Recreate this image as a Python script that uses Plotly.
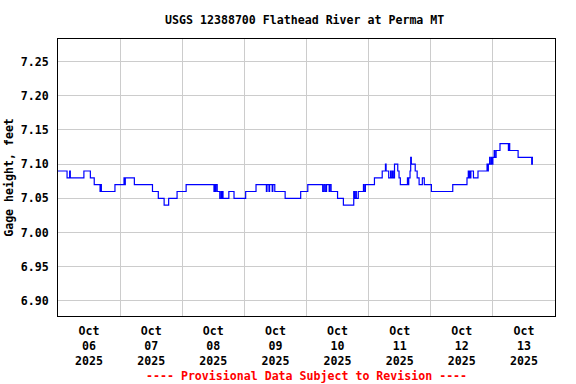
import plotly.graph_objects as go

title_text = "USGS 12388700 Flathead River at Perma MT"
y_title = "Gage height, feet"
footer_text = "---- Provisional Data Subject to Revision ----"

times = [
    "2025-10-06 00:00", "2025-10-06 03:30", "2025-10-06 04:30", "2025-10-06 04:45",
    "2025-10-06 10:00", "2025-10-06 12:30", "2025-10-06 14:00", "2025-10-06 16:15",
    "2025-10-06 16:30", "2025-10-06 16:45", "2025-10-06 22:00", "2025-10-07 01:30",
    "2025-10-07 01:45", "2025-10-07 02:00", "2025-10-07 05:30", "2025-10-07 12:30",
    "2025-10-07 14:45", "2025-10-07 17:00", "2025-10-07 18:45", "2025-10-07 22:00",
    "2025-10-08 01:30", "2025-10-08 12:15", "2025-10-08 12:30", "2025-10-08 12:45",
    "2025-10-08 13:00", "2025-10-08 13:30", "2025-10-08 14:30", "2025-10-08 15:00",
    "2025-10-08 15:15", "2025-10-08 15:30", "2025-10-08 15:45", "2025-10-08 18:00",
    "2025-10-08 20:00", "2025-10-09 00:30", "2025-10-09 04:30", "2025-10-09 08:30",
    "2025-10-09 08:45", "2025-10-09 09:30", "2025-10-09 09:45", "2025-10-09 10:45",
    "2025-10-09 11:00", "2025-10-09 11:45", "2025-10-09 15:45", "2025-10-09 21:45",
    "2025-10-10 00:30", "2025-10-10 06:15", "2025-10-10 06:45", "2025-10-10 07:15",
    "2025-10-10 07:45", "2025-10-10 08:45", "2025-10-10 09:00", "2025-10-10 09:30",
    "2025-10-10 12:00", "2025-10-10 14:15", "2025-10-10 18:15", "2025-10-10 18:30",
    "2025-10-10 19:00", "2025-10-10 19:15", "2025-10-10 20:00", "2025-10-10 22:00",
    "2025-10-10 22:15", "2025-10-10 22:45", "2025-10-11 02:15", "2025-10-11 05:15",
    "2025-10-11 06:30", "2025-10-11 06:45", "2025-10-11 07:45", "2025-10-11 08:30",
    "2025-10-11 08:45", "2025-10-11 09:15", "2025-10-11 09:30", "2025-10-11 10:00",
    "2025-10-11 11:15", "2025-10-11 11:45", "2025-10-11 12:15", "2025-10-11 15:00",
    "2025-10-11 15:15", "2025-10-11 15:30", "2025-10-11 16:00", "2025-10-11 16:15",
    "2025-10-11 16:30", "2025-10-11 18:00", "2025-10-11 18:45", "2025-10-11 19:30",
    "2025-10-11 20:45", "2025-10-11 21:30", "2025-10-12 00:15", "2025-10-12 08:30",
    "2025-10-12 14:00", "2025-10-12 14:30", "2025-10-12 14:45", "2025-10-12 15:00",
    "2025-10-12 15:15", "2025-10-12 15:30", "2025-10-12 16:30", "2025-10-12 18:15",
    "2025-10-12 21:45", "2025-10-12 22:00", "2025-10-12 22:15", "2025-10-12 22:45",
    "2025-10-12 23:00", "2025-10-12 23:30", "2025-10-12 23:45", "2025-10-13 00:00",
    "2025-10-13 00:30", "2025-10-13 00:45", "2025-10-13 01:15", "2025-10-13 02:45",
    "2025-10-13 06:00", "2025-10-13 06:15", "2025-10-13 06:30", "2025-10-13 09:45",
    "2025-10-13 15:00", "2025-10-13 15:15", "2025-10-13 15:30",
]
gage_height = [
    7.09, 7.08, 7.09, 7.08,
    7.09, 7.08, 7.07, 7.06,
    7.07, 7.06, 7.07, 7.08,
    7.07, 7.08, 7.07, 7.06,
    7.05, 7.04, 7.05, 7.06,
    7.07, 7.06, 7.07, 7.06,
    7.07, 7.06, 7.05, 7.06,
    7.05, 7.06, 7.05, 7.06,
    7.05, 7.06, 7.07, 7.06,
    7.07, 7.06, 7.07, 7.06,
    7.07, 7.06, 7.05, 7.06,
    7.07, 7.06, 7.07, 7.06,
    7.07, 7.06, 7.07, 7.06,
    7.05, 7.04, 7.06, 7.05,
    7.06, 7.05, 7.06, 7.07,
    7.06, 7.07, 7.08, 7.09,
    7.10, 7.09, 7.08, 7.09,
    7.08, 7.09, 7.08, 7.10,
    7.09, 7.08, 7.07, 7.08,
    7.07, 7.08, 7.09, 7.11,
    7.10, 7.09, 7.08, 7.07,
    7.08, 7.07, 7.06, 7.07,
    7.08, 7.09, 7.08, 7.09,
    7.08, 7.09, 7.08, 7.09,
    7.10, 7.09, 7.10, 7.11,
    7.10, 7.11, 7.10, 7.11,
    7.12, 7.11, 7.12, 7.13,
    7.12, 7.13, 7.12, 7.11,
    7.10, 7.11, 7.11,
]

day_label_positions = ["2025-10-%02d 12:00" % d for d in range(6, 14)]
day_labels = ["Oct<br>%02d<br>2025" % d for d in range(6, 14)]
y_ticks = [6.90, 6.95, 7.00, 7.05, 7.10, 7.15, 7.20, 7.25]
x_range = ["2025-10-06 00:00", "2025-10-14 00:00"]
y_range = [6.878, 7.283]

FONT = "DejaVu Sans Mono"
fsize = 11.6

fig = go.Figure()
fig.add_trace(go.Scatter(
    x=times, y=gage_height, mode="lines", line_shape="hv",
    line=dict(color="#0000ff", width=1.2), showlegend=False,
))

fig.update_layout(
    width=576, height=384,
    margin=dict(l=58, r=21, t=39, b=68),
    paper_bgcolor="white", plot_bgcolor="white",
    font=dict(family=FONT, size=fsize, color="black", weight="bold"),
    title=dict(text=title_text, x=0.529, xanchor="center", y=0.948, yanchor="middle",
               font=dict(family=FONT, size=fsize, color="black", weight="bold")),
    xaxis=dict(
        type="date", range=x_range, automargin=False,
        tickmode="array", tickvals=day_label_positions, ticktext=day_labels,
        showgrid=False, ticks="", ticklabelstandoff=4,
        minor=dict(dtick=86400000, tick0="2025-10-06", showgrid=True,
                   gridcolor="#cccccc", gridwidth=1, ticks=""),
        showline=True, mirror=True, linecolor="black", linewidth=1,
        zeroline=False,
    ),
    yaxis=dict(
        range=y_range, tickmode="array", tickvals=y_ticks, tickformat=".2f",
        showgrid=True, gridcolor="#cccccc", gridwidth=1, ticks="",
        ticklabelstandoff=6, automargin=False,
        showline=True, mirror=True, linecolor="black", linewidth=1,
        zeroline=False,
        title=dict(text=y_title, standoff=4,
                   font=dict(family=FONT, size=fsize, color="black", weight="bold")),
    ),
    annotations=[dict(
        text=footer_text, xref="paper", yref="paper", x=0.5, y=-0.217,
        xanchor="center", yanchor="middle", showarrow=False,
        font=dict(family=FONT, size=fsize, color="#ff0000", weight="bold"),
    )],
)

fig.write_html("out.html", config={"displayModeBar": False},
               post_script="document.body.style.margin='0';document.body.style.padding='0';")
